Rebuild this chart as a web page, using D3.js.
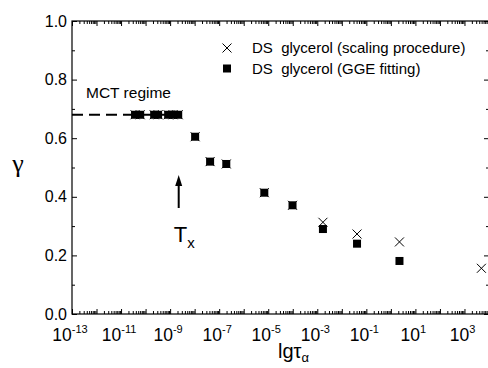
<!DOCTYPE html>
<html>
<head>
<meta charset="utf-8">
<script src="https://cdn.jsdelivr.net/npm/d3@7"></script>
<style>
  body { margin: 0; background: #fff; }
  svg { display: block; font-family: "Liberation Sans", Arial, sans-serif; }
</style>
</head>
<body>
<svg id="chart" width="488" height="368"></svg>
<script>
// lg(tau) positions and gamma values
const scalingLgTau = [-10.43, -10.22, -9.65, -9.49, -9.08, -8.88, -8.67, -7.98, -7.37, -6.71, -5.16, -4.01, -2.77, -1.38, 0.35, 3.69];
const scalingGamma = [0.68, 0.68, 0.68, 0.68, 0.68, 0.68, 0.68, 0.605, 0.52, 0.512, 0.414, 0.371, 0.313, 0.273, 0.246, 0.156];
const ggeLgTau = [-10.43, -10.22, -9.65, -9.49, -9.08, -8.88, -8.67, -7.98, -7.37, -6.71, -5.16, -4.01, -2.77, -1.38, 0.35];
const ggeGamma = [0.68, 0.68, 0.68, 0.68, 0.68, 0.68, 0.68, 0.605, 0.52, 0.512, 0.414, 0.371, 0.29, 0.24, 0.181];
const mctLevel = 0.68;
const mctEnd = -8.55;
const txPosition = -8.65;
const xLabelDecades = [-13, -11, -9, -7, -5, -3, -1, 1, 3];
const yLabels = [0, 0.2, 0.4, 0.6, 0.8, 1.0];
const legendLabels = ['DS  glycerol (scaling procedure)', 'DS  glycerol (GGE fitting)'];

const svg = d3.select('#chart');
const m = { left: 72, right: 489, top: 21, bottom: 314 };

const x = d3.scaleLog().domain([1e-13, 1e4]).range([m.left, m.right]);
const y = d3.scaleLinear().domain([0, 1]).range([m.bottom, m.top]);

// ticks for log axis: every decade major, 2..9 minor
const majorX = d3.range(-13, 5).map(e => Math.pow(10, e));
const minorX = [];
d3.range(-13, 4).forEach(e => {
  for (let k = 2; k <= 9; k++) minorX.push(k * Math.pow(10, e));
});
const majorY = yLabels;
const minorY = [0.1, 0.3, 0.5, 0.7, 0.9];

function drawAxis(gen, scale, values, size, tx, ty) {
  const g = svg.append('g')
    .attr('transform', `translate(${tx},${ty})`)
    .call(gen(scale).tickValues(values).tickSize(-size).tickFormat(''));
  g.select('path').remove();
  g.selectAll('.tick line').attr('stroke', '#000').attr('stroke-width', 1);
  return g;
}

// inward ticks on all four sides
drawAxis(d3.axisBottom, x, majorX, 5, 0, m.bottom);
drawAxis(d3.axisBottom, x, minorX, 3, 0, m.bottom);
drawAxis(d3.axisTop, x, majorX, 5, 0, m.top);
drawAxis(d3.axisTop, x, minorX, 3, 0, m.top);
drawAxis(d3.axisLeft, y, majorY, 5, m.left, 0);
drawAxis(d3.axisLeft, y, minorY, 3, m.left, 0);
drawAxis(d3.axisRight, y, majorY, 5, m.right, 0);
drawAxis(d3.axisRight, y, minorY, 3, m.right, 0);

// frame
svg.append('rect')
  .attr('x', m.left).attr('y', m.top)
  .attr('width', m.right - m.left).attr('height', m.bottom - m.top)
  .attr('fill', 'none').attr('stroke', '#000').attr('stroke-width', 1.2);

// y tick labels
svg.append('g').selectAll('text')
  .data(yLabels)
  .join('text')
  .attr('x', m.left - 5)
  .attr('y', d => y(d) + 5.5)
  .attr('text-anchor', 'end')
  .attr('font-size', 16)
  .text(d => d.toFixed(1));

// x tick labels, 10 with superscript
const xl = svg.append('g').selectAll('text')
  .data(xLabelDecades)
  .join('text')
  .attr('x', d => x(Math.pow(10, d)) - 2)
  .attr('y', m.bottom + 27)
  .attr('text-anchor', 'middle')
  .attr('font-size', 17.5);
xl.append('tspan').text('10');
xl.append('tspan').attr('dy', -8).attr('font-size', 11).text(d => d);

// axis titles
svg.append('text')
  .attr('x', 18).attr('y', 172)
  .attr('text-anchor', 'middle')
  .attr('font-family', '"Liberation Serif", "DejaVu Serif", serif')
  .attr('font-size', 26)
  .text('γ');

const xt = svg.append('text')
  .attr('x', 278).attr('y', 358)
  .attr('font-size', 20);
xt.append('tspan').text('lgτ');
xt.append('tspan').attr('dy', 4).attr('font-size', 13).text('α');

// MCT regime dashed line
svg.append('line')
  .attr('x1', x(1e-13)).attr('x2', x(Math.pow(10, mctEnd)))
  .attr('y1', y(mctLevel)).attr('y2', y(mctLevel))
  .attr('stroke', '#000').attr('stroke-width', 2)
  .attr('stroke-dasharray', '11,6');

svg.append('text')
  .attr('x', 86).attr('y', 98)
  .attr('font-size', 15.5)
  .text('MCT regime');

// squares (GGE fitting)
const sq = 8;
svg.append('g').selectAll('rect')
  .data(d3.zip(ggeLgTau, ggeGamma))
  .join('rect')
  .attr('x', d => x(Math.pow(10, d[0])) - sq / 2)
  .attr('y', d => y(d[1]) - sq / 2)
  .attr('width', sq).attr('height', sq)
  .attr('fill', '#000');

// crosses (scaling procedure)
const cr = 4.5;
const crossPath = `M${-cr},${-cr}L${cr},${cr}M${-cr},${cr}L${cr},${-cr}`;
svg.append('g').selectAll('path')
  .data(d3.zip(scalingLgTau, scalingGamma))
  .join('path')
  .attr('transform', d => `translate(${x(Math.pow(10, d[0]))},${y(d[1])})`)
  .attr('d', crossPath)
  .attr('fill', 'none').attr('stroke', '#000').attr('stroke-width', 1);

// Tx arrow
const ax = x(Math.pow(10, txPosition));
svg.append('line')
  .attr('x1', ax).attr('x2', ax)
  .attr('y1', 208).attr('y2', 184)
  .attr('stroke', '#000').attr('stroke-width', 2);
svg.append('path')
  .attr('d', `M${ax},${175}L${ax - 3.5},${186}L${ax + 3.5},${186}Z`)
  .attr('fill', '#000');
const txLabel = svg.append('text')
  .attr('x', ax - 5).attr('y', 242)
  .attr('font-size', 22);
txLabel.append('tspan').text('T');
txLabel.append('tspan').attr('dy', 6).attr('font-size', 15).text('x');

// legend
const legend = svg.append('g');
legendLabels.forEach((label, i) => {
  const ly = 48 + i * 20.5;
  if (i === 0) {
    legend.append('path')
      .attr('transform', `translate(227,${ly})`)
      .attr('d', crossPath)
      .attr('fill', 'none').attr('stroke', '#000').attr('stroke-width', 1);
  } else {
    legend.append('rect')
      .attr('x', 227 - sq / 2).attr('y', ly - sq / 2)
      .attr('width', sq).attr('height', sq)
      .attr('fill', '#000');
  }
  legend.append('text')
    .attr('x', 252).attr('y', ly + 5)
    .attr('font-size', 15)
    .style('white-space', 'pre')
    .text(label);
});
</script>
</body>
</html>
